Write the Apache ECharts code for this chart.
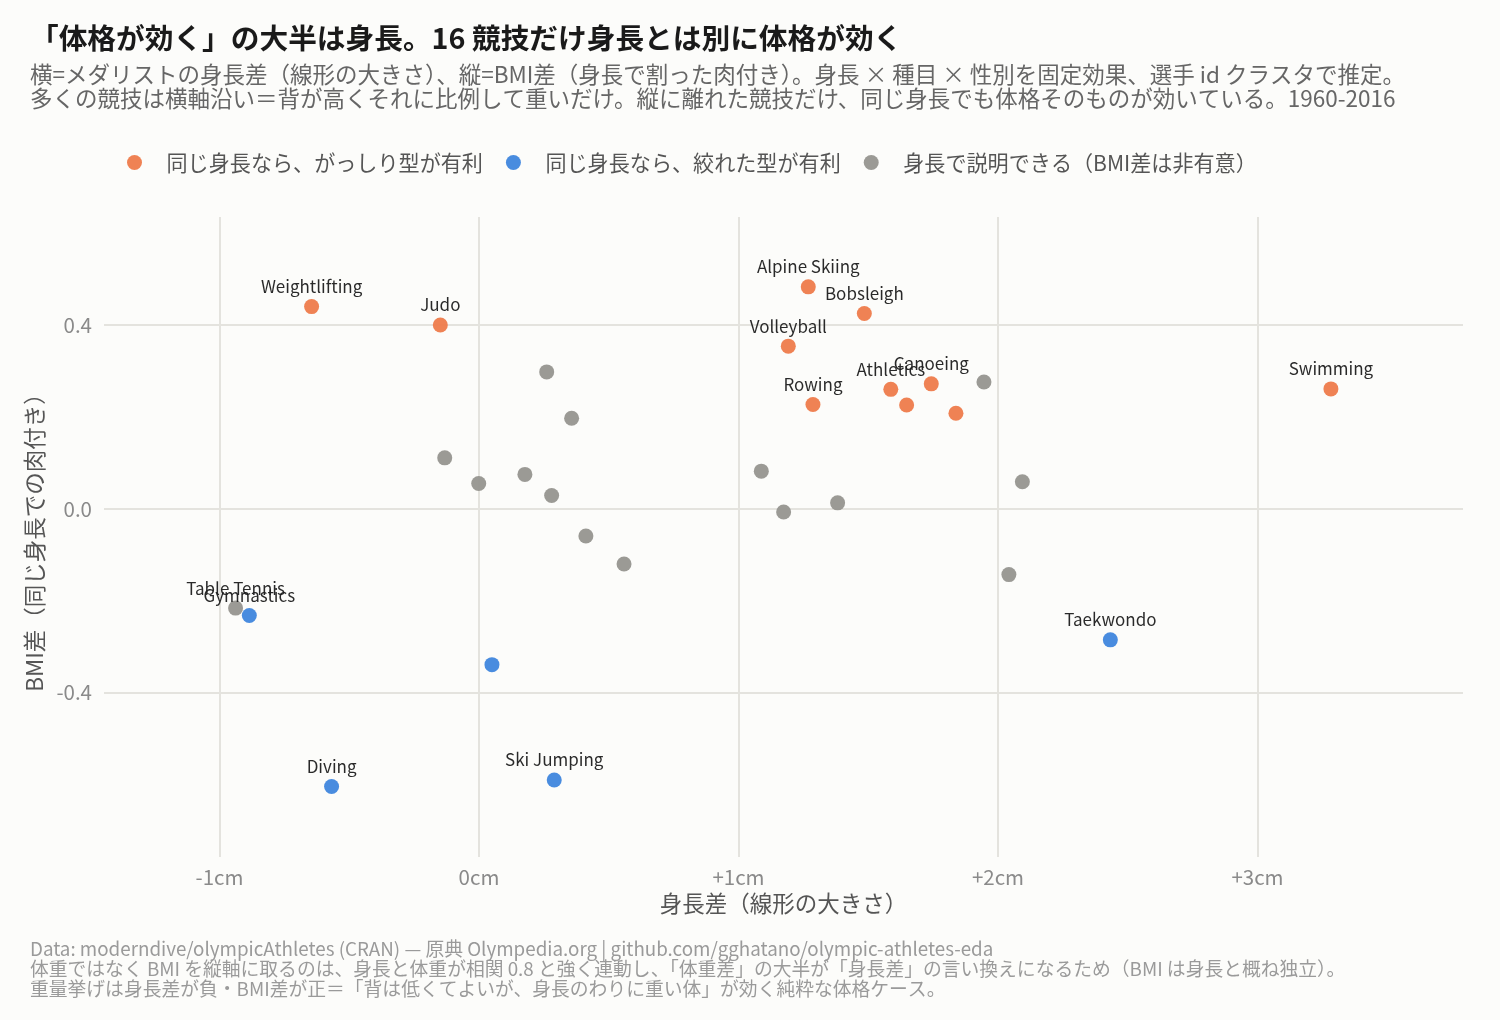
<!DOCTYPE html>
<html><head><meta charset="utf-8">
<script src="https://cdn.jsdelivr.net/npm/echarts@6/dist/echarts.min.js"></script>
<style>html,body{margin:0;padding:0;background:#fcfcfa;}#c{width:1500px;height:1020px;}</style>
</head><body><div id="c"></div>
<script>
const groupNames = ['同じ身長なら、がっしり型が有利','同じ身長なら、絞れた型が有利','身長で説明できる（BMI差は非有意）'];
const groupColors = ['#ee7b4b','#3f86dd','#96958f'];

const heavyNames = ['Weightlifting','Judo','Alpine Skiing','Bobsleigh','Volleyball','Rowing','Athletics','','Canoeing','','Swimming'];
const heavyX = [-0.645,-0.149,1.269,1.485,1.192,1.287,1.587,1.648,1.743,1.838,3.283];
const heavyY = [0.440,0.400,0.483,0.425,0.354,0.227,0.260,0.226,0.272,0.208,0.261];

const leanNames = ['Gymnastics','','Diving','Ski Jumping','Taekwondo'];
const leanX = [-0.885,0.050,-0.568,0.290,2.433];
const leanY = [-0.232,-0.339,-0.604,-0.590,-0.285];

const nsNames = ['Table Tennis','','','','','','','','','','','','','',''];
const nsX = [-0.938,0.261,0.357,-0.132,-0.001,0.177,0.280,0.412,0.559,1.088,1.174,1.382,1.946,2.094,2.042];
const nsY = [-0.216,0.298,0.197,0.111,0.055,0.075,0.029,-0.059,-0.120,0.082,-0.007,0.013,0.276,0.059,-0.143];

const xTicks = [-1,0,1,2,3];
const xTickLabels = ['-1cm','0cm','+1cm','+2cm','+3cm'];
const yTicks = [-0.4,0,0.4];
const yTickLabels = ['-0.4','0.0','0.4'];

const FONT = '"Noto Sans CJK JP","Noto Sans",sans-serif';

function mk(names, xs, ys){ return xs.map((x,i)=>({value:[x, ys[i]], name:names[i]})); }

const chart = echarts.init(document.getElementById('c'), null, {renderer:'canvas'});
const mkSeries = (i, data, z) => ({
  name: groupNames[i], type:'scatter', data, z,
  symbolSize: 15,
  itemStyle:{color:groupColors[i], opacity:0.95},
  label:{show:true, position:'top', distance:4, formatter:p=>p.name, color:'#1e1e1e', fontSize:17, fontFamily:FONT},
  labelLayout:{hideOverlap:false},
  emphasis:{disabled:true}
});

chart.setOption({
  backgroundColor:'#fcfcfa',
  animation:false,
  textStyle:{fontFamily:FONT},
  title:[
    {text:'「体格が効く」の大半は身長。16 競技だけ身長とは別に体格が効く', left:25, top:19,
     textStyle:{fontFamily:FONT, fontSize:28.7, fontWeight:'bold', color:'#1a1a1a'}},
    {text:'横=メダリストの身長差（線形の大きさ）、縦=BMI差（身長で割った肉付き）。身長 × 種目 × 性別を固定効果、選手 id クラスタで推定。\n多くの競技は横軸沿い＝背が高くそれに比例して重いだけ。縦に離れた競技だけ、同じ身長でも体格そのものが効いている。1960-2016',
     left:25, top:57, textStyle:{fontFamily:FONT, fontSize:22.5, fontWeight:'normal', color:'#666', lineHeight:24}},
    {text:'Data: moderndive/olympicAthletes (CRAN) — 原典 Olympedia.org | github.com/gghatano/olympic-athletes-eda\n体重ではなく BMI を縦軸に取るのは、身長と体重が相関 0.8 と強く連動し、「体重差」の大半が「身長差」の言い換えになるため（BMI は身長と概ね独立）。\n重量挙げは身長差が負・BMI差が正＝「背は低くてよいが、身長のわりに重い体」が効く純粋な体格ケース。',
     left:25, top:934, textStyle:{fontFamily:FONT, fontSize:18.8, fontWeight:'normal', color:'#9a9a9a', lineHeight:20}}
  ],
  legend:{
    data:groupNames, left:122, top:147, icon:'circle', itemWidth:54, itemHeight:15, itemGap:23,
    textStyle:{fontFamily:FONT, fontSize:21.1, color:'#555'}
  },
  grid:{left:104, right:37, top:217, bottom:163, containLabel:false},
  xAxis:{
    type:'value', min:-1.445, max:3.792,
    name:'身長差（線形の大きさ）', nameLocation:'middle', nameGap:35,
    nameTextStyle:{fontFamily:FONT, fontSize:22.5, color:'#555'},
    axisLine:{show:false}, axisTick:{show:false, customValues:xTicks},
    axisLabel:{customValues:xTicks, formatter:v=>xTickLabels[xTicks.indexOf(Math.round(v))] ?? '', color:'#8a8a8a', fontSize:20.5, margin:10, fontFamily:FONT},
    splitLine:{show:true, lineStyle:{color:'#e4e3de', width:2}}
  },
  yAxis:{
    type:'value', min:-0.7575, max:0.635,
    name:'BMI差（同じ身長での肉付き）', nameLocation:'middle', nameGap:55, nameRotate:90,
    nameTextStyle:{fontFamily:FONT, fontSize:22.5, color:'#555'},
    axisLine:{show:false}, axisTick:{show:false, customValues:yTicks},
    axisLabel:{customValues:yTicks, formatter:v=>{const i=yTicks.findIndex(t=>Math.abs(t-v)<1e-6); return i>=0?yTickLabels[i]:'';}, color:'#8a8a8a', fontSize:20.5, margin:12, fontFamily:FONT},
    splitLine:{show:true, lineStyle:{color:'#e4e3de', width:2}}
  },
  series:[
    mkSeries(0, mk(heavyNames, heavyX, heavyY), 3),
    mkSeries(1, mk(leanNames, leanX, leanY), 3),
    mkSeries(2, mk(nsNames, nsX, nsY), 2)
  ]
});
</script></body></html>
